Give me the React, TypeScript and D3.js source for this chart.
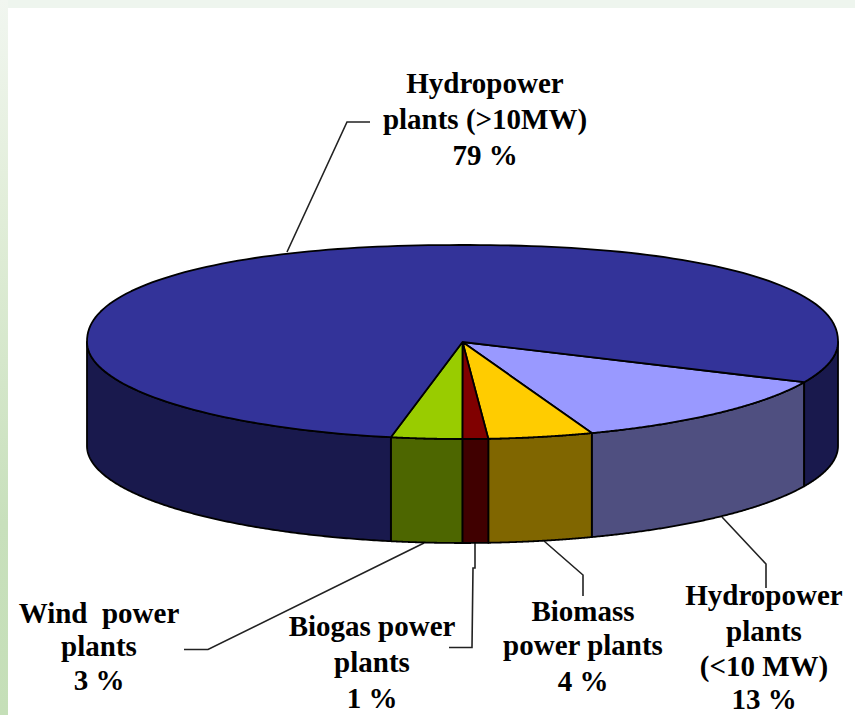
import React from "react";
import * as d3 from "d3";

// Slices clockwise from the small-hydro slice (shares)
const sliceNames = ["Small hydro", "Biomass", "Biogas", "Wind", "Large hydro"];
const sliceShares = [12.6, 4.5, 1.1, 3.05, 78.75];
const topColors = ["#9999ff", "#ffcc00", "#800000", "#99cc00", "#333399"];
const sideColors = ["#4f4f80", "#806600", "#400000", "#4d6600", "#19194d"];

const labelLines = [
  ["Hydropower", "plants (>10MW)", "79 %"],
  ["Wind  power", "plants", "3 %"],
  ["Biogas power", "plants", "1 %"],
  ["Biomass", "power plants", "4 %"],
  ["Hydropower", "plants", "(<10 MW)", "13 %"],
];
const labelCentersX = [485, 99, 372, 583, 764];
const labelBaselines = [
  [93, 129, 165],
  [623, 656, 690],
  [636, 672, 708],
  [621, 655, 691],
  [605, 641, 676, 708.5],
];

const leaderLines: [number, number][][] = [
  [[287, 252], [347, 122], [370, 122]],
  [[424, 543], [208, 649.5], [184, 649.5]],
  [[475, 542], [475, 568], [473, 568], [472, 647.5], [449, 647.5]],
  [[544, 541], [583, 575], [583, 596]],
  [[722, 517], [766, 564], [766, 588]],
];

const W = 855, H = 715, CX = 462.5, CY = 342, RX = 375.5, RY = 97, DEPTH = 104;
const START = (114.5 * Math.PI) / 180;
const FAR_EXP = 2.2; // the far rim of the reference bulges beyond a true ellipse

const pt = (a: number, dy = 0): [number, number] => {
  const s = Math.sin(a), c = Math.cos(a);
  const y = c > 0 ? Math.pow(1 - Math.pow(Math.abs(s), FAR_EXP), 1 / FAR_EXP) : c;
  return [CX + RX * s, CY - RY * y + dy];
};
const arcPts = (a0: number, a1: number, dy = 0) =>
  d3.range(0, 181).map((i) => pt(a0 + ((a1 - a0) * i) / 180, dy));
const line = d3.line();

export default function App() {
  const arcs = d3.pie<number>().sort(null).startAngle(START).endAngle(START + 2 * Math.PI)(sliceShares);
  const sides: { d: string; fill: string }[] = [];
  arcs.forEach((s, i) => {
    [Math.PI / 2, (5 * Math.PI) / 2].forEach((lo) => {
      const a0 = Math.max(s.startAngle, lo);
      const a1 = Math.min(s.endAngle, lo + Math.PI);
      if (a1 > a0) {
        const pts = [...arcPts(a0, a1), ...arcPts(a1, a0, DEPTH)];
        sides.push({ d: line(pts) + "Z", fill: sideColors[i] });
      }
    });
  });
  return (
    <svg width={W} height={H} viewBox={`0 0 ${W} ${H}`} style={{ position: "absolute", left: 0, top: 0, display: "block" }}>
      <defs>
        <linearGradient id="strip" x1="0" y1="0" x2="0" y2="1">
          <stop offset="0" stopColor="#f1f6f0" />
          <stop offset="0.28" stopColor="#e2eeda" />
          <stop offset="0.73" stopColor="#c8e0bc" />
          <stop offset="1" stopColor="#c5dfb8" />
        </linearGradient>
      </defs>
      <rect x={0} y={0} width={W} height={H} fill="#ffffff" />
      <rect x={0} y={0} width={W} height={8} fill="#eef5ee" />
      <rect x={0} y={0} width={8} height={H} fill="url(#strip)" />
      {leaderLines.map((l, i) => (
        <path key={i} d={line(l) ?? ""} fill="none" stroke="#222" strokeWidth={1.6} />
      ))}
      {sides.map((s, i) => (
        <path key={i} d={s.d} fill={s.fill} stroke="#000" strokeWidth={1.8} strokeLinejoin="round" />
      ))}
      {arcs.map((s, i) => (
        <path
          key={sliceNames[i]}
          d={line([[CX, CY], ...arcPts(s.startAngle, s.endAngle)]) + "Z"}
          fill={topColors[i]}
          stroke="#000"
          strokeWidth={1.8}
          strokeLinejoin="round"
        />
      ))}
      {labelLines.map((lines, i) => (
        <text key={i} textAnchor="middle" fontFamily="'Liberation Serif', serif" fontWeight="bold" fontSize={29} fill="#000" style={{ whiteSpace: "pre" }}>
          {lines.map((t, j) => (
            <tspan key={j} x={labelCentersX[i]} y={labelBaselines[i][j]}>{t}</tspan>
          ))}
        </text>
      ))}
    </svg>
  );
}
